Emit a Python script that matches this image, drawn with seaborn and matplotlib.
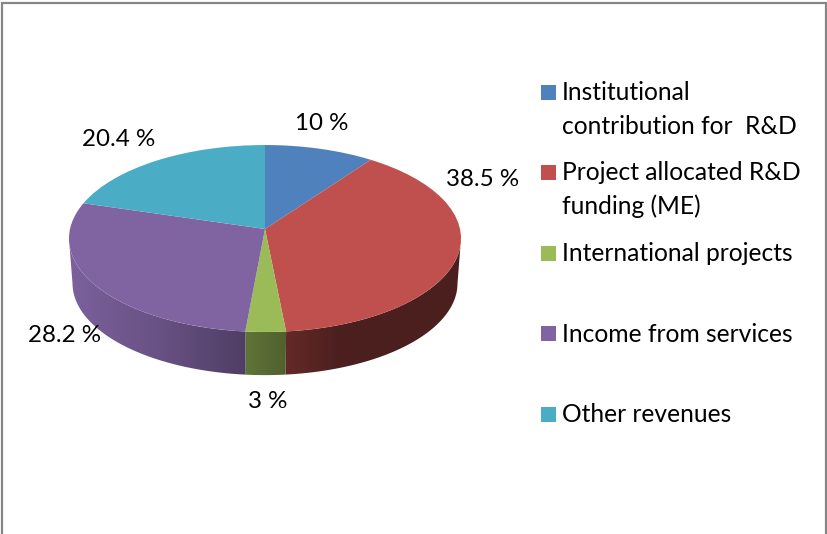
import matplotlib
matplotlib.use("Agg")
import matplotlib.pyplot as plt
import matplotlib.transforms as mtransforms
from matplotlib.patches import Rectangle, Polygon
import seaborn as sns
import numpy as np

# chart data
categories = [
    ["Institutional", "contribution for  R&D"],
    ["Project allocated R&D", "funding (ME)"],
    ["International projects"],
    ["Income from services"],
    ["Other revenues"],
]
shares = [10, 38.5, 3, 28.2, 20.4]
share_labels = ["10 %", "38.5 %", "3 %", "28.2 %", "20.4 %"]
colors = ["#4F81BD", "#C0504D", "#9BBB59", "#8064A2", "#4BACC6"]

# layout, in pixels of the 827x534 picture
label_pos = [(322, 124), (483, 179), (268, 402), (65, 336), (119, 140)]
legend_y = [92.5, 172.5, 253, 333.5, 414]
LABEL_FS = 17.4
LEGEND_FS = 17.7
TILT = 0.1016


class Tilt(mtransforms.Transform):
    """Unit circle -> tilted disc seen in perspective, in pixels."""
    input_dims = 2
    output_dims = 2

    def __init__(self, cx, cy, scale=1.0):
        super().__init__()
        self.cx, self.cy, self.scale = cx, cy, scale

    def transform_non_affine(self, xy):
        xy = np.asarray(xy, dtype=float)
        d = 1 + TILT * xy[:, 1]
        return np.column_stack([self.cx + self.scale * 195 * xy[:, 0] / d,
                                self.cy - self.scale * 92.5 * xy[:, 1] / d])


def side_shade(x):
    # side wall gets darker from left to right
    return np.interp(x, [-196, -100, -20, 20, 75, 196],
                     [0.97, 0.80, 0.62, 0.52, 0.39, 0.39])


sns.set_theme(style="white")
plt.rcParams["font.family"] = ["Lato", "DejaVu Sans"]
palette = sns.color_palette(colors)

fig = plt.figure(figsize=(8.27, 5.34), dpi=100, facecolor="white")
ax = fig.add_axes([0, 0, 1, 1])

wedges, _ = ax.pie(shares, colors=palette, startangle=90, counterclock=False,
                   wedgeprops={"linewidth": 0})

top = Tilt(265, 229)
bottom = Tilt(265, 274, 0.982)
for w in wedges:
    w.set_transform(top + ax.transData)
    w.set_zorder(2)

# side wall, built from the same slice angles: a gradient clipped to each slice's band
xs = np.arange(60, 470)
for w, col in zip(wedges, palette):
    angles = np.radians(np.linspace(w.theta1, w.theta2, 400))
    angles = angles[np.sin(angles) < -TILT]  # only the part facing the viewer
    if len(angles) < 2:
        continue
    unit = np.column_stack([np.cos(angles), np.sin(angles)])
    band = np.vstack([top.transform(unit), bottom.transform(unit)[::-1]])
    rgb = np.array(col)[None, None, :] * side_shade(xs - 265)[None, :, None]
    im = ax.imshow(rgb, extent=(xs[0], xs[-1] + 1, 400, 130), aspect="auto",
                   interpolation="bilinear", zorder=1)
    patch = Polygon(band, closed=True, transform=ax.transData, facecolor="none",
                    edgecolor="none")
    ax.add_patch(patch)
    im.set_clip_path(patch)

ax.set_aspect("auto")
ax.set_xlim(0, 827)
ax.set_ylim(534, 0)
ax.set_axis_off()

for (x, y), txt in zip(label_pos, share_labels):
    ax.text(x, y, txt, ha="center", va="center", fontsize=LABEL_FS, color="black", zorder=3)

# legend
for y, lines, col in zip(legend_y, categories, palette):
    ax.add_patch(Rectangle((541, y - 7.5), 15, 15, facecolor=col, edgecolor="none", zorder=3))
    for i, line in enumerate(lines):
        ax.text(562, y + 8 + i * 33, line, ha="left", va="baseline", fontsize=LEGEND_FS,
                color="black", zorder=3)

# chart frame, the bottom edge is cut off by the picture
ax.plot([2.3, 2.3, 825.7, 825.7], [534, 3, 3, 534], color="#868686", lw=1.6,
        solid_joinstyle="miter", zorder=4)

fig.savefig("out.png", dpi=100)
